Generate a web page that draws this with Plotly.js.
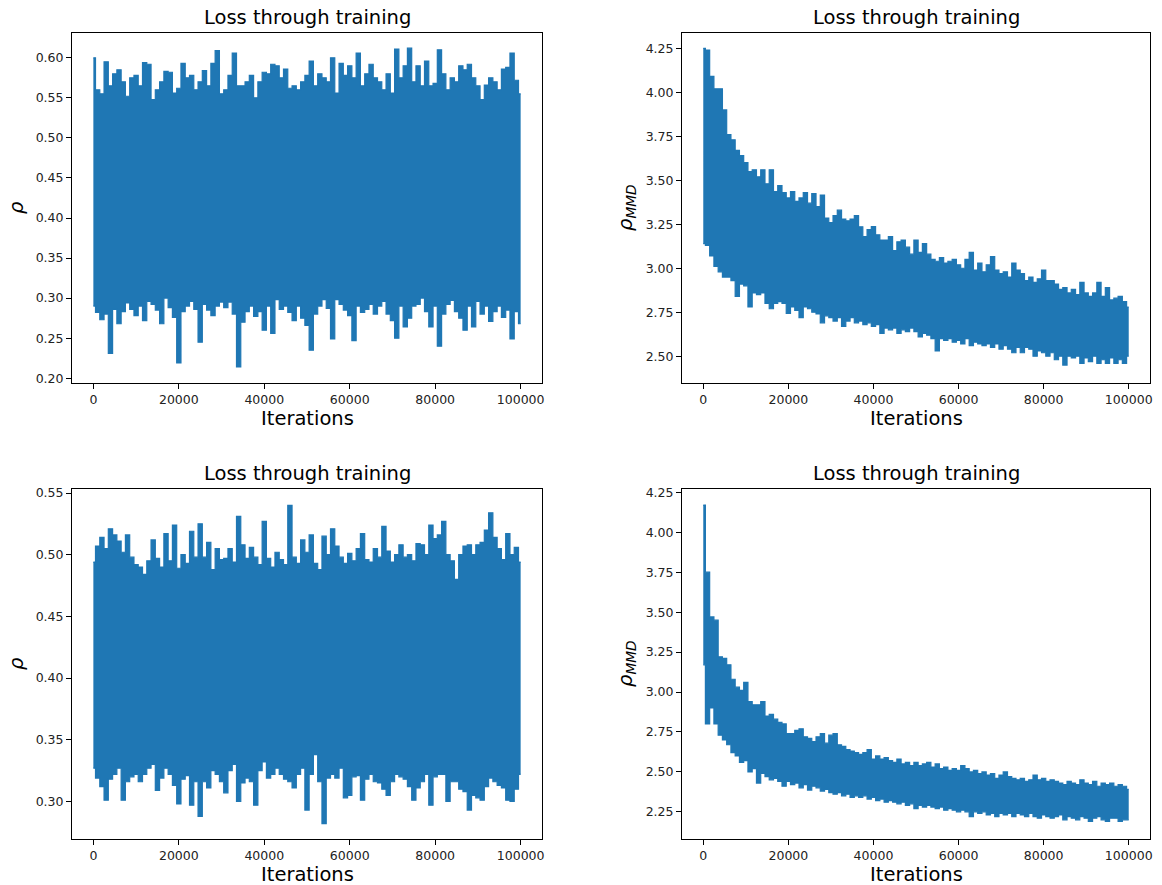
<!DOCTYPE html>
<html>
<head>
<meta charset="utf-8">
<script src="https://cdn.plot.ly/plotly-3.0.1.min.js"></script>
<style>html,body{margin:0;padding:0;background:#fff;}#chart{width:1162px;height:885px;}</style>
</head>
<body>
<div id="chart"></div>
<script>
// Sample positions (iterations) at which the envelope of each loss curve was read
const iterations = [0,1000,2000,3000,4000,5000,6000,7000,8000,9000,10000,11000,12000,13000,14000,15000,16000,17000,18000,19000,20000,21000,22000,23000,24000,25000,26000,27000,28000,29000,30000,31000,32000,33000,34000,35000,36000,37000,38000,39000,40000,41000,42000,43000,44000,45000,46000,47000,48000,49000,50000,51000,52000,53000,54000,55000,56000,57000,58000,59000,60000,61000,62000,63000,64000,65000,66000,67000,68000,69000,70000,71000,72000,73000,74000,75000,76000,77000,78000,79000,80000,81000,82000,83000,84000,85000,86000,87000,88000,89000,90000,91000,92000,93000,94000,95000,96000,97000,98000,99000,100000];

// Top-left: rho (upper / lower envelope)
const rhoTopHigh = [0.600,0.560,0.555,0.595,0.565,0.580,0.585,0.570,0.552,0.575,0.578,0.565,0.594,0.592,0.548,0.560,0.570,0.583,0.582,0.556,0.562,0.593,0.575,0.578,0.560,0.570,0.584,0.565,0.593,0.609,0.555,0.560,0.578,0.606,0.565,0.565,0.570,0.578,0.550,0.570,0.582,0.580,0.592,0.590,0.575,0.586,0.562,0.565,0.560,0.570,0.578,0.596,0.565,0.580,0.575,0.570,0.600,0.556,0.593,0.578,0.590,0.575,0.606,0.565,0.580,0.592,0.575,0.570,0.560,0.580,0.556,0.611,0.575,0.590,0.612,0.570,0.590,0.565,0.596,0.565,0.568,0.610,0.580,0.560,0.575,0.570,0.590,0.585,0.592,0.575,0.565,0.548,0.566,0.575,0.570,0.560,0.586,0.588,0.606,0.572,0.555];
const rhoTopLow = [0.290,0.282,0.273,0.280,0.231,0.286,0.268,0.283,0.294,0.286,0.278,0.290,0.272,0.296,0.292,0.285,0.268,0.300,0.288,0.276,0.219,0.283,0.290,0.296,0.286,0.245,0.292,0.285,0.278,0.290,0.295,0.288,0.295,0.280,0.214,0.270,0.283,0.290,0.277,0.283,0.260,0.290,0.256,0.298,0.286,0.290,0.282,0.272,0.290,0.275,0.266,0.235,0.280,0.290,0.298,0.287,0.249,0.298,0.292,0.285,0.278,0.247,0.290,0.282,0.286,0.292,0.280,0.290,0.296,0.280,0.272,0.250,0.290,0.264,0.275,0.290,0.292,0.300,0.283,0.264,0.290,0.240,0.280,0.292,0.297,0.283,0.275,0.260,0.290,0.264,0.296,0.280,0.290,0.271,0.283,0.290,0.276,0.285,0.249,0.283,0.268];

// Top-right: rho_MMD
const mmdTopHigh = [4.25,4.24,4.09,4.02,4.02,3.90,3.76,3.73,3.67,3.64,3.60,3.55,3.56,3.52,3.56,3.48,3.56,3.435,3.47,3.43,3.40,3.435,3.38,3.40,3.43,3.37,3.425,3.35,3.416,3.285,3.26,3.30,3.33,3.28,3.27,3.28,3.30,3.236,3.18,3.22,3.237,3.19,3.16,3.16,3.18,3.10,3.15,3.16,3.12,3.08,3.16,3.09,3.14,3.08,3.05,3.04,3.06,3.03,3.04,3.05,3.02,3.00,3.05,3.09,2.99,3.03,2.98,3.02,3.066,2.99,2.97,2.98,2.95,3.03,2.99,2.97,2.93,2.95,2.92,2.94,2.99,2.93,2.93,2.91,2.88,2.89,2.86,2.88,2.85,2.92,2.86,2.84,2.86,2.92,2.84,2.89,2.82,2.83,2.84,2.81,2.78];
const mmdTopLow = [3.14,3.13,3.07,3.01,2.98,2.95,2.95,2.93,2.84,2.91,2.90,2.78,2.86,2.85,2.86,2.80,2.77,2.80,2.81,2.80,2.744,2.78,2.76,2.72,2.78,2.77,2.75,2.74,2.69,2.73,2.72,2.70,2.72,2.67,2.70,2.72,2.69,2.70,2.68,2.69,2.67,2.68,2.63,2.66,2.65,2.66,2.63,2.65,2.64,2.66,2.64,2.61,2.63,2.62,2.60,2.53,2.60,2.59,2.60,2.58,2.59,2.57,2.60,2.56,2.58,2.57,2.56,2.57,2.55,2.57,2.54,2.56,2.54,2.52,2.55,2.52,2.55,2.54,2.50,2.53,2.52,2.50,2.52,2.48,2.50,2.45,2.50,2.49,2.50,2.46,2.49,2.47,2.50,2.46,2.48,2.46,2.49,2.46,2.48,2.46,2.50];

// Bottom-left: rho
const rhoBotHigh = [0.494,0.507,0.514,0.505,0.521,0.516,0.511,0.502,0.516,0.498,0.492,0.490,0.484,0.495,0.512,0.497,0.490,0.517,0.495,0.524,0.489,0.500,0.493,0.519,0.498,0.525,0.498,0.510,0.488,0.505,0.496,0.497,0.505,0.494,0.531,0.508,0.497,0.506,0.498,0.492,0.527,0.497,0.490,0.502,0.496,0.492,0.540,0.498,0.493,0.512,0.502,0.516,0.493,0.488,0.515,0.500,0.521,0.507,0.498,0.493,0.501,0.495,0.505,0.517,0.496,0.494,0.505,0.498,0.523,0.503,0.494,0.500,0.508,0.498,0.500,0.495,0.509,0.508,0.500,0.524,0.513,0.516,0.527,0.500,0.495,0.480,0.500,0.507,0.508,0.500,0.508,0.510,0.520,0.534,0.514,0.505,0.496,0.517,0.500,0.506,0.494];
const rhoBotLow = [0.327,0.319,0.312,0.301,0.318,0.322,0.327,0.301,0.316,0.320,0.322,0.316,0.322,0.327,0.330,0.309,0.319,0.327,0.322,0.313,0.298,0.318,0.321,0.297,0.316,0.288,0.316,0.311,0.325,0.322,0.316,0.307,0.325,0.330,0.300,0.315,0.319,0.316,0.297,0.325,0.332,0.319,0.322,0.327,0.322,0.318,0.316,0.311,0.322,0.327,0.293,0.322,0.338,0.316,0.282,0.319,0.322,0.319,0.327,0.303,0.305,0.320,0.321,0.301,0.318,0.322,0.316,0.315,0.310,0.305,0.316,0.322,0.320,0.318,0.312,0.301,0.311,0.316,0.322,0.297,0.320,0.322,0.322,0.300,0.316,0.316,0.310,0.308,0.293,0.305,0.303,0.301,0.312,0.319,0.316,0.313,0.311,0.301,0.300,0.310,0.322];

// Bottom-right: rho_MMD
const mmdBotHigh = [4.17,3.75,3.47,3.45,3.22,3.21,3.17,3.08,3.03,3.01,3.06,2.94,2.92,2.92,2.94,2.85,2.86,2.83,2.81,2.80,2.74,2.74,2.76,2.77,2.72,2.71,2.69,2.72,2.74,2.68,2.73,2.74,2.67,2.66,2.64,2.63,2.62,2.61,2.62,2.64,2.58,2.60,2.58,2.59,2.57,2.56,2.58,2.55,2.56,2.54,2.56,2.54,2.55,2.56,2.53,2.55,2.52,2.53,2.51,2.52,2.51,2.54,2.52,2.50,2.51,2.49,2.50,2.48,2.49,2.46,2.48,2.50,2.47,2.46,2.45,2.46,2.44,2.45,2.48,2.45,2.46,2.44,2.45,2.44,2.43,2.42,2.44,2.43,2.42,2.45,2.43,2.42,2.44,2.41,2.43,2.42,2.43,2.41,2.42,2.41,2.39];
const mmdBotLow = [3.17,2.80,2.90,2.80,2.73,2.70,2.67,2.62,2.60,2.56,2.57,2.50,2.52,2.43,2.49,2.47,2.45,2.46,2.44,2.41,2.44,2.42,2.43,2.40,2.42,2.386,2.41,2.40,2.38,2.39,2.37,2.36,2.37,2.35,2.36,2.34,2.35,2.34,2.35,2.33,2.34,2.32,2.33,2.31,2.32,2.31,2.30,2.31,2.29,2.30,2.27,2.29,2.28,2.29,2.28,2.27,2.28,2.26,2.27,2.26,2.25,2.26,2.25,2.22,2.25,2.24,2.25,2.23,2.24,2.22,2.24,2.23,2.24,2.22,2.24,2.23,2.22,2.24,2.22,2.21,2.23,2.22,2.21,2.22,2.23,2.20,2.22,2.21,2.20,2.22,2.21,2.19,2.21,2.22,2.20,2.19,2.21,2.21,2.19,2.20,2.20];

// Tick labels
const xTicks = [0,20000,40000,60000,80000,100000];
const xTickText = ["0","20000","40000","60000","80000","100000"];
const rhoTopTicks = [0.20,0.25,0.30,0.35,0.40,0.45,0.50,0.55,0.60];
const mmdTopTicks = [2.50,2.75,3.00,3.25,3.50,3.75,4.00,4.25];
const rhoBotTicks = [0.30,0.35,0.40,0.45,0.50,0.55];
const mmdBotTicks = [2.25,2.50,2.75,3.00,3.25,3.50,3.75,4.00,4.25];

const titleText = "Loss through training";
const xLabel = "Iterations";
const rhoLabel = "<i>ρ</i>";
const mmdLabel = "<i>ρ</i><sub><i>MMD</i></sub>";

const BLUE = "#1f77b4";
const FONT = "DejaVu Sans";

function band(lo, hi, xa, ya) {
  return [
    {x: iterations, y: lo, xaxis: xa, yaxis: ya, type: "scatter", mode: "lines",
     line: {color: BLUE, width: 1.2, shape: "hvh"}, hoverinfo: "skip", showlegend: false},
    {x: iterations, y: hi, xaxis: xa, yaxis: ya, type: "scatter", mode: "lines",
     fill: "tonexty", fillcolor: BLUE,
     line: {color: BLUE, width: 1.2, shape: "hvh"}, hoverinfo: "skip", showlegend: false}
  ];
}

const data = [].concat(
  band(rhoTopLow, rhoTopHigh, "x", "y"),
  band(mmdTopLow, mmdTopHigh, "x2", "y2"),
  band(rhoBotLow, rhoBotHigh, "x3", "y3"),
  band(mmdBotLow, mmdBotHigh, "x4", "y4")
);

const W = 1162, H = 885;
const colL = [72/W, 542/W];
const colR = [682/W, 1150/W];
const rowT = [1 - 383/H, 1 - 33/H];
const rowB = [1 - 838.5/H, 1 - 489.3/H];

function xax(domain, anchor) {
  return {domain: domain, anchor: anchor, range: [-5000, 105000],
    tickvals: xTicks, ticktext: xTickText, ticks: "outside", ticklen: 5, tickwidth: 1,
    tickcolor: "#000", showline: true, mirror: true, linecolor: "#000", linewidth: 1,
    showgrid: false, zeroline: false, tickfont: {family: FONT, size: 12.5, color: "#222"}, fixedrange: true};
}
function yax(domain, anchor, range, ticks) {
  return {domain: domain, anchor: anchor, range: range,
    tickvals: ticks, ticktext: ticks.map(v => v.toFixed(2)), ticks: "outside", ticklen: 5, tickwidth: 1,
    tickcolor: "#000", showline: true, mirror: true, linecolor: "#000", linewidth: 1,
    showgrid: false, zeroline: false, tickfont: {family: FONT, size: 12.5, color: "#222"}, fixedrange: true};
}

const annotations = [];
const panels = [["x","y",rhoLabel],["x2","y2",mmdLabel],["x3","y3",rhoLabel],["x4","y4",mmdLabel]];
panels.forEach(p => {
  annotations.push({text: titleText, xref: p[0] + " domain", yref: p[1] + " domain", x: 0.5, y: 1,
    xanchor: "center", yanchor: "bottom", yshift: 2, showarrow: false,
    font: {family: FONT, size: 19.5, color: "#000"}});
  annotations.push({text: xLabel, xref: p[0] + " domain", yref: p[1] + " domain", x: 0.5, y: 0,
    xanchor: "center", yanchor: "top", yshift: -22, showarrow: false,
    font: {family: FONT, size: 19.5, color: "#000"}});
  annotations.push({text: p[2], xref: p[0] + " domain", yref: p[1] + " domain", x: 0, y: 0.5,
    xanchor: "center", yanchor: "middle", xshift: -55, textangle: -90, showarrow: false,
    font: {family: FONT, size: 19.5, color: "#000"}});
});

const layout = {
  width: W, height: H,
  margin: {l: 0, r: 0, t: 0, b: 0},
  paper_bgcolor: "#fff", plot_bgcolor: "#fff",
  showlegend: false,
  xaxis: xax(colL, "y"),
  yaxis: yax(rowT, "x", [0.194, 0.631], rhoTopTicks),
  xaxis2: xax(colR, "y2"),
  yaxis2: yax(rowT, "x2", [2.348, 4.337], mmdTopTicks),
  xaxis3: xax(colL, "y3"),
  yaxis3: yax(rowB, "x3", [0.270, 0.553], rhoBotTicks),
  xaxis4: xax(colR, "y4"),
  yaxis4: yax(rowB, "x4", [2.083, 4.269], mmdBotTicks),
  annotations: annotations
};

Plotly.newPlot("chart", data, layout, {displayModeBar: false, staticPlot: true});
</script>
</body>
</html>
